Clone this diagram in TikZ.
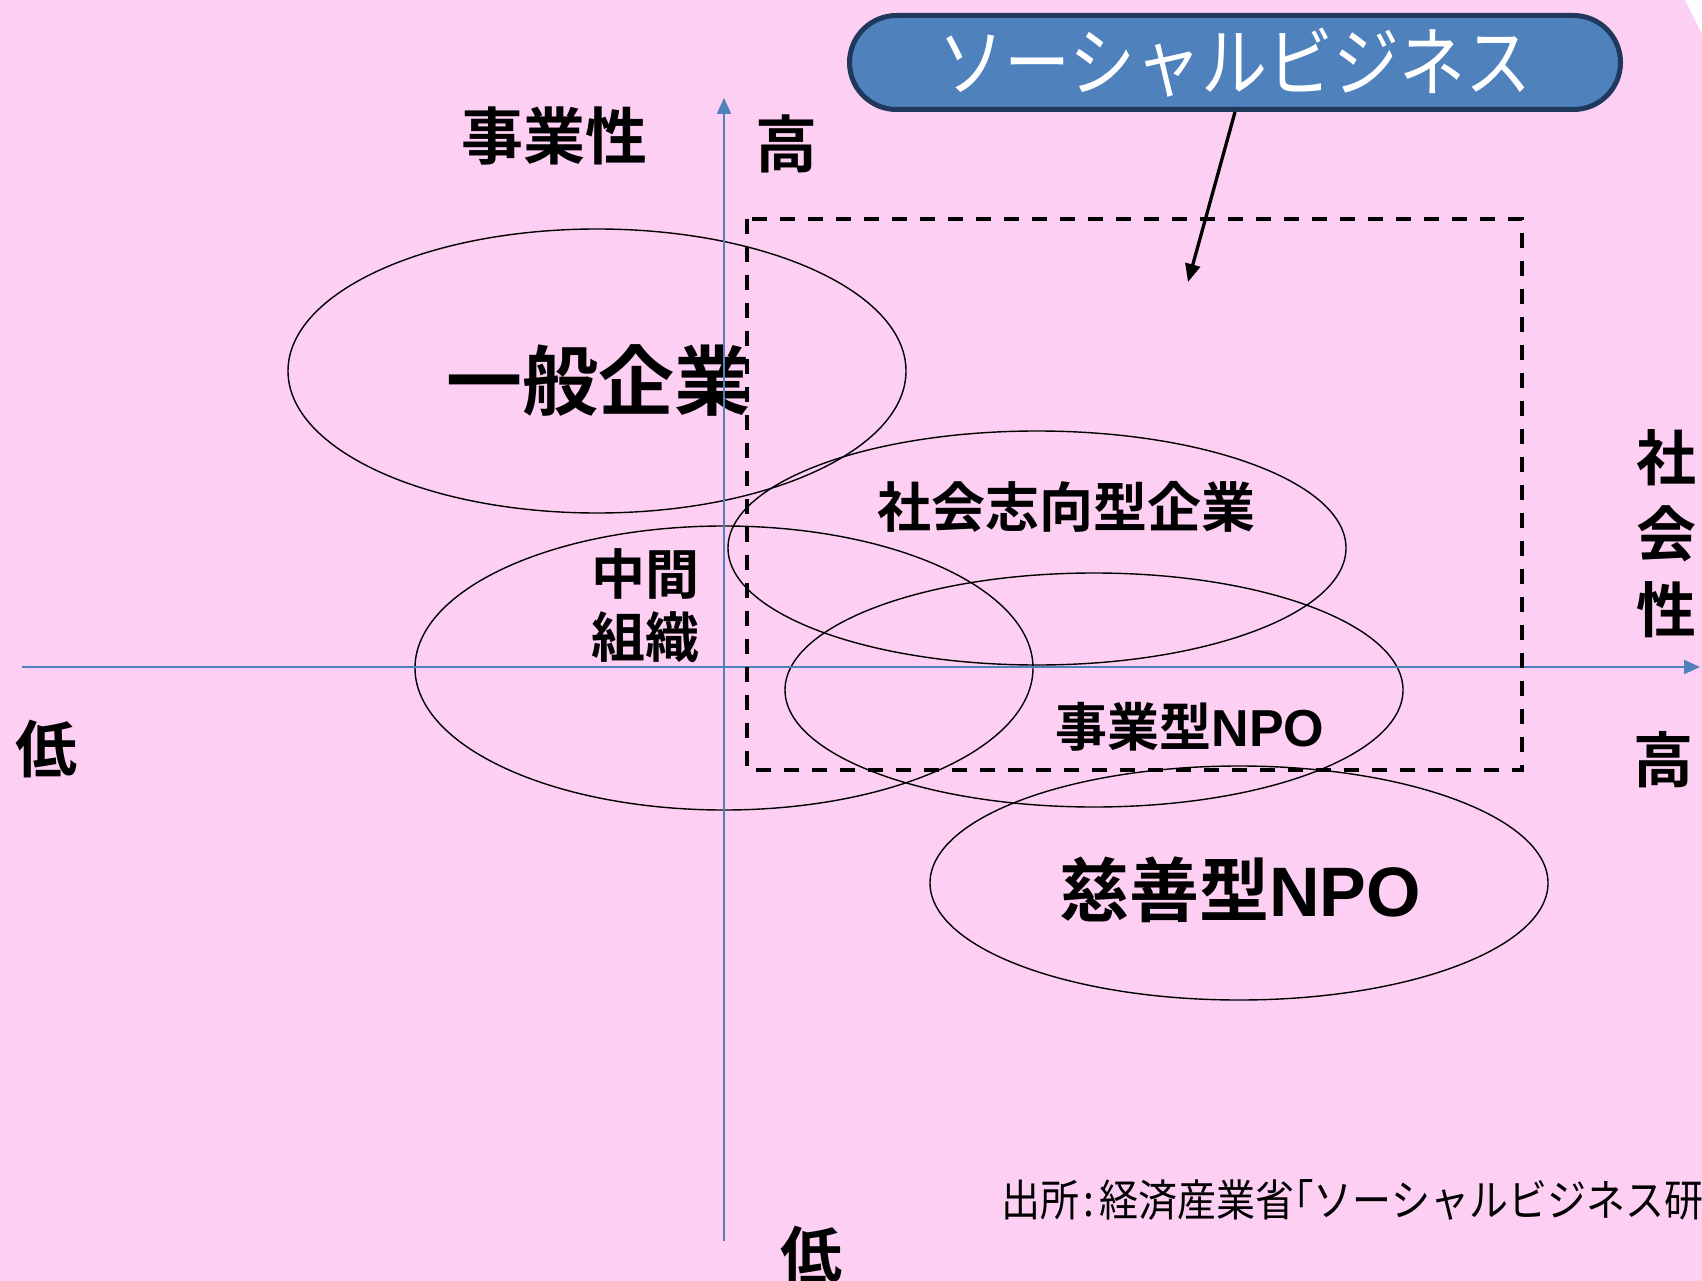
\documentclass[tikz,border=0pt]{standalone}
\usepackage{fontspec}
\usetikzlibrary{arrows.meta}
\newfontfamily\jp{Noto Sans CJK JP}[BoldFont={Noto Sans CJK JP Bold}]
\newfontfamily\lat{Liberation Sans}
\definecolor{bgpink}{RGB}{252,207,243}
\definecolor{axblue}{RGB}{79,129,189}
\definecolor{navy}{RGB}{31,56,92}
\newcommand{\fs}[2]{\fontsize{#1}{#2}\selectfont}
\tikzset{
  lbl/.style={font=\jp\bfseries, inner sep=0pt, text=black},
  axisline/.style={draw=axblue, line width=2pt, -{Triangle[length=16pt,width=14pt]}},
  ell/.style={draw=black, line width=1.4pt},
  sbox/.style={draw=navy, line width=5pt, fill=axblue, rounded corners=47pt,
    minimum width=771pt, minimum height=94pt, text=white, inner sep=0pt},
  dashrect/.style={draw=black, line width=3.5pt, dash pattern=on 15pt off 13pt},
}
\begin{document}
\begin{tikzpicture}[x=1pt,y=-1pt]
\fill[bgpink] (0,0) rectangle (1702,1281);
\useasboundingbox (0,0) rectangle (1702,1281);
\fill[white] (1685,0) -- (1702,0) -- (1702,34) -- cycle;

% labels
\node[lbl, font=\jp\bfseries\fs{62}{62}] (jigyosei) at (554,136) {事業性};
\node[lbl, font=\jp\bfseries\fs{62}{62}] (takaiY) at (786,144) {高};
\node[lbl, font=\jp\bfseries\fs{62}{62}] (hikuiX) at (46,749) {低};
\node[lbl, font=\jp\bfseries\fs{62}{62}] (hikuiY) at (811,1255) {低};
\node[lbl, font=\jp\bfseries\fs{60}{76}, align=center] (shakaisei) at (1666,534) {社\\会\\性};
\node[lbl, font=\jp\bfseries\fs{60}{60}] (takaiX) at (1663,760) {高};

\node[lbl, font=\jp\bfseries\fs{76}{76}] (ippan) at (598,380) {一般企業};
\node[lbl, font=\jp\bfseries\fs{54}{54}] (shakaishiko) at (1066,507) {社会志向型企業};
\node[lbl, font=\jp\bfseries\fs{54}{63}, align=center] (chukan) at (645,606) {中間\\組織};
\node[lbl, font=\jp\bfseries\fs{52}{52}] (jigyonpo) at (1190,727) {事業型{\lat\bfseries NPO}};
\node[lbl, font=\jp\bfseries\fs{70}{70}] (jizen) at (1240,890) {慈善型{\lat\bfseries NPO}};

\node[inner sep=0pt, anchor=west, font=\jp\fs{39}{39}] (source) at (1001,1200)
  {\scalebox{1}[1.12]{出所\hspace{0.12em}:\hspace{0.12em}経済産業省｢ソーシャルビジネス研}};

% ellipses
\draw[ell] (597,371) ellipse [x radius=309, y radius=142];
\draw[ell] (1037,548) ellipse [x radius=309, y radius=117];
\draw[ell] (724,668) ellipse [x radius=309, y radius=142];
\draw[ell] (1094,690) ellipse [x radius=309, y radius=117];
\draw[ell] (1239,883) ellipse [x radius=309, y radius=117];

% axes
\coordinate (yb) at (724,1241);
\coordinate (yt) at (724,98);
\coordinate (xl) at (22,667);
\coordinate (xr) at (1700,667);
\draw[axisline] (yb) -- (yt);
\draw[axisline] (xl) -- (xr);

% dashed region
\draw[dashrect] (747,219) rectangle (1522,770);

% social business box
\node[sbox, font=\jp\fs{66}{66}] (sb) at (1235,62.5) {\scalebox{1}[1.15]{ソーシャルビジネス}};
\coordinate (sbtip) at (1188,282);
\draw[line width=3.3pt, -{Triangle[length=18pt,width=15pt]}] (sb.south) -- (sbtip);
\end{tikzpicture}
\end{document}
